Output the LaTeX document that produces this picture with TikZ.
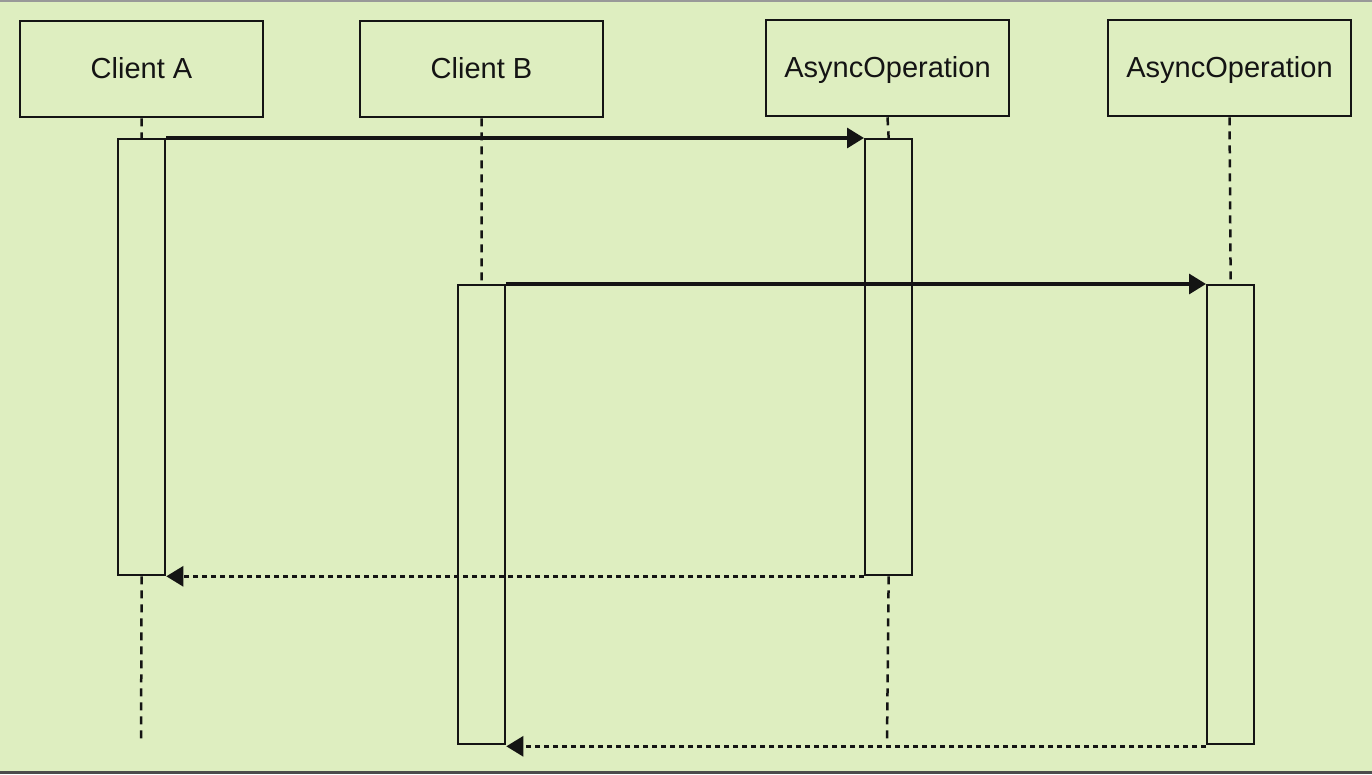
\documentclass[tikz,border=0pt]{standalone}
\usepackage{fontspec}
\setmainfont{Liberation Sans}
\usetikzlibrary{arrows.meta}
\definecolor{bgreen}{RGB}{222,238,192}
\definecolor{ink}{RGB}{20,20,20}
\begin{document}
\begin{tikzpicture}[x=1pt,y=-1pt,
  actor/.style={draw=ink,line width=2.6pt,minimum width=243pt,minimum height=96pt,inner sep=0pt,
    text height=21pt,text depth=2pt,font=\fontsize{29}{34}\selectfont,text=ink},
  act/.style={draw=ink,line width=2.3pt,fill=bgreen,minimum width=47pt,inner sep=0pt,anchor=north west},
  life/.style={draw=ink,line width=2.5pt,dash pattern=on 8pt off 6pt},
  call/.style={draw=ink,line width=3.2pt,-{Triangle[length=17pt,width=20pt]}},
  reply/.style={draw=ink,line width=2.8pt,dash pattern=on 5pt off 4pt,-{Triangle[length=17pt,width=20pt]}}]
% page and frame lines
\fill[bgreen] (0,0) rectangle (1372,774);
\useasboundingbox (0,0) rectangle (1372,774);
\draw[gray!80,line width=2pt] (0,1) -- (1372,1);
\draw[black!70,line width=2.5pt] (0,772.5) -- (1372,772.5);
% participants
\node[actor] (ca) at (141.5,69) {Client A};
\node[actor] (cb) at (481.5,69) {Client B};
\node[actor] (ao1) at (887.5,68) {AsyncOperation};
\node[actor] (ao2) at (1229.5,68) {AsyncOperation};
% lifeline ends
\coordinate (caEnd) at (141,742);
\coordinate (ao1End) at (887,742);
% activation bars
\node[act,minimum height=436pt] (caAct) at (117,138) {};
\node[act,minimum height=436pt] (ao1Act) at (864,138) {};
\node[act,minimum height=459pt] (cbAct) at (457,284) {};
\node[act,minimum height=459pt] (ao2Act) at (1206,284) {};
% lifelines
\draw[life] (ca.south) -- (caAct.north);
\draw[life] (caAct.south) -- (caEnd);
\draw[life] (cb.south) -- (cbAct.north);
\draw[life] (ao1.south) -- (ao1Act.north);
\draw[life] (ao1Act.south) -- (ao1End);
\draw[life] (ao2.south) -- (ao2Act.north);
% redraw the bars over the lifelines
\node[act,minimum height=436pt] at (117,138) {};
\node[act,minimum height=436pt] at (864,138) {};
\node[act,minimum height=459pt] at (457,284) {};
\node[act,minimum height=459pt] at (1206,284) {};
% messages
\draw[call] (caAct.north east) -- (ao1Act.north west);
\draw[call] (cbAct.north east) -- (ao2Act.north west);
\draw[reply] (ao1Act.south west) -- (caAct.south east);
\draw[reply] ([yshift=-1pt]ao2Act.south west) -- ([yshift=-1pt]cbAct.south east);
\end{tikzpicture}
\end{document}
